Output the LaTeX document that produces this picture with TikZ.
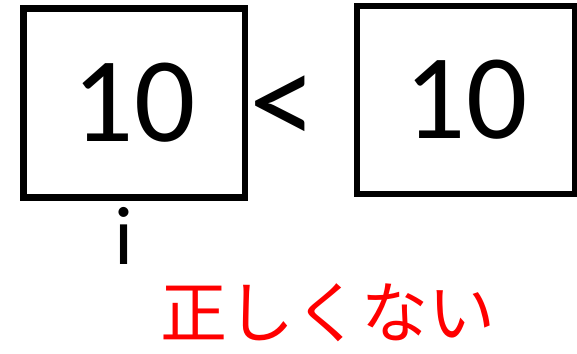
\documentclass[tikz,border=0pt]{standalone}
\usepackage{fontspec}
\setmainfont{Carlito}
\newfontfamily\jpfont{Noto Sans CJK JP}
\usepackage{xcolor}
\usepackage{tikz}
\usetikzlibrary{positioning}

\begin{document}
\begin{tikzpicture}[x=1pt, y=-1pt,
    valbox/.style={rectangle, draw=black, line width=6.5pt, inner sep=0pt, fill=white, font=\fontsize{121}{121}\selectfont},
    sym/.style={inner sep=0pt, font=\fontsize{135}{135}\selectfont}
]
\useasboundingbox (0,0) rectangle (577,353);
\node[valbox, minimum width=221.5pt, minimum height=189pt] (left) at (134.25,103) {10};
\node[valbox, minimum width=218pt, minimum height=188pt] (right) at (466,100) {10};
\node[sym] (less) at (283.5,111) {<};
\node[inner sep=0pt, font=\fontsize{83}{83}\selectfont] (idx) at (124,235.5) {i};
\node[inner sep=0pt, text=red, font=\jpfont\fontsize{67}{67}\selectfont] (verdict) at (327.5,313) {正しくない};
\end{tikzpicture}
\end{document}
